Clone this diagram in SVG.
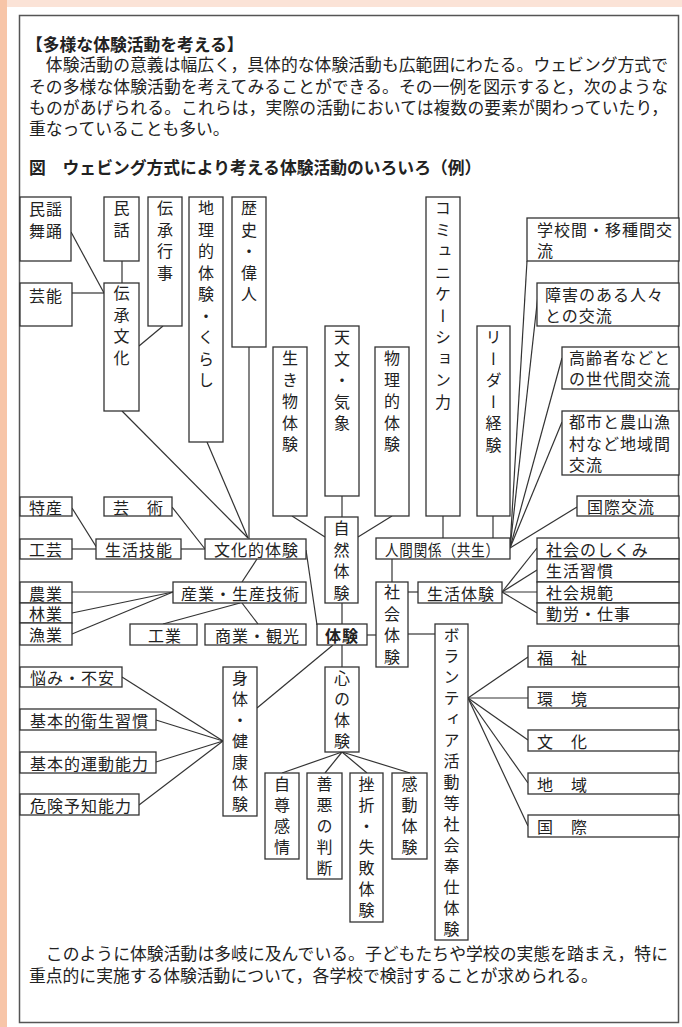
<svg xmlns="http://www.w3.org/2000/svg" width="682" height="1027" viewBox="0 0 682 1027">
<style>
.bg{fill:#fff}
.b{fill:#fff;stroke:#333;stroke-width:1.3}
.t{font-family:"Noto Sans CJK JP","Noto Sans CJK SC",sans-serif;font-size:16px;fill:#222;dominant-baseline:central;letter-spacing:1px}
.v{writing-mode:vertical-rl;letter-spacing:5.5px}
.p{font-family:"Noto Sans CJK JP","Noto Sans CJK SC",sans-serif;font-size:16.8px;fill:#222;dominant-baseline:central}
.bold{font-weight:bold}
#connectors line{stroke:#333;stroke-width:1.2}
</style>
<rect x="0" y="0" width="682" height="1027" fill="#fff"/>
<rect x="0" y="0" width="682" height="7" fill="#fbe3d7"/>
<rect x="0" y="0" width="7" height="1027" fill="#f7c5a8"/>
<rect x="19.5" y="15.5" width="659" height="1007" fill="none" stroke="#555" stroke-width="1.5"/>

<g id="intro">
<text class="p bold" x="26" y="44">【多様な体験活動を考える】</text>
<text class="p" x="29" y="64" textLength="639" lengthAdjust="spacing">　体験活動の意義は幅広く，具体的な体験活動も広範囲にわたる。ウェビング方式で</text>
<text class="p" x="29" y="86" textLength="639" lengthAdjust="spacing">その多様な体験活動を考えてみることができる。その一例を図示すると，次のような</text>
<text class="p" x="29" y="107" textLength="639" lengthAdjust="spacing">ものがあげられる。これらは，実際の活動においては複数の要素が関わっていたり，</text>
<text class="p" x="29" y="128">重なっていることも多い。</text>
<text class="p bold" x="29" y="167">図　ウェビング方式により考える体験活動のいろいろ（例）</text>
</g>

<g id="connectors">
<line x1="71" y1="232" x2="104" y2="293"/>
<line x1="72" y1="293" x2="104" y2="293"/>
<line x1="122" y1="261" x2="122" y2="283"/>
<line x1="163" y1="326" x2="139" y2="346"/>
<line x1="122" y1="411" x2="248" y2="538"/>
<line x1="207" y1="442" x2="248" y2="538"/>
<line x1="249" y1="347" x2="249" y2="539"/>
<line x1="72" y1="508" x2="97" y2="548"/>
<line x1="72" y1="549" x2="96" y2="549"/>
<line x1="181" y1="549" x2="205" y2="549"/>
<line x1="172" y1="507" x2="205" y2="549"/>
<line x1="257" y1="559" x2="242" y2="582"/>
<line x1="72" y1="592" x2="173" y2="592"/>
<line x1="72" y1="613" x2="173" y2="592"/>
<line x1="72" y1="634" x2="173" y2="592"/>
<line x1="240" y1="603" x2="163" y2="624"/>
<line x1="242" y1="603" x2="258" y2="624"/>
<line x1="306" y1="550" x2="317" y2="625"/>
<line x1="292" y1="516" x2="325" y2="537"/>
<line x1="342" y1="496" x2="342" y2="517"/>
<line x1="392" y1="516" x2="358" y2="537"/>
<line x1="443" y1="516" x2="443" y2="538"/>
<line x1="493" y1="516" x2="493" y2="538"/>
<line x1="510" y1="548" x2="577" y2="507"/>
<line x1="510" y1="548" x2="527" y2="261"/>
<line x1="510" y1="548" x2="538" y2="295"/>
<line x1="510" y1="548" x2="562" y2="358"/>
<line x1="510" y1="548" x2="562" y2="422"/>
<line x1="392" y1="559" x2="392" y2="582"/>
<line x1="408" y1="592" x2="418" y2="592"/>
<line x1="502" y1="592" x2="537" y2="548"/>
<line x1="502" y1="592" x2="537" y2="570"/>
<line x1="502" y1="592" x2="537" y2="592"/>
<line x1="502" y1="592" x2="537" y2="613"/>
<line x1="342" y1="603" x2="342" y2="624"/>
<line x1="367" y1="635" x2="376" y2="635"/>
<line x1="408" y1="634" x2="435" y2="634"/>
<line x1="342" y1="645" x2="342" y2="667"/>
<line x1="257" y1="708" x2="333" y2="645"/>
<line x1="122" y1="677" x2="223" y2="741"/>
<line x1="156" y1="720" x2="223" y2="741"/>
<line x1="156" y1="762" x2="223" y2="741"/>
<line x1="139" y1="805" x2="223" y2="741"/>
<line x1="342" y1="752" x2="282" y2="773"/>
<line x1="342" y1="752" x2="325" y2="773"/>
<line x1="342" y1="752" x2="367" y2="773"/>
<line x1="342" y1="752" x2="410" y2="773"/>
<line x1="468" y1="698" x2="528" y2="657"/>
<line x1="468" y1="698" x2="528" y2="698"/>
<line x1="468" y1="698" x2="528" y2="740"/>
<line x1="468" y1="698" x2="528" y2="783"/>
<line x1="468" y1="698" x2="528" y2="826"/>
</g>

<g id="n-minyo"><rect class="b" x="20" y="197" width="51" height="64"/><text class="t" x="29" y="208">民謡</text><text class="t" x="29" y="230">舞踊</text></g>
<g id="n-minwa"><rect class="b" x="104" y="197" width="35" height="64"/><text class="t v" x="121.5" y="200">民話</text></g>
<g id="n-densho-gyoji"><rect class="b" x="148" y="197" width="34" height="129"/><text class="t v" x="165" y="200">伝承行事</text></g>
<g id="n-chiri"><rect class="b" x="189" y="197" width="34" height="245"/><text class="t v" x="206" y="200">地理的体験・くらし</text></g>
<g id="n-rekishi"><rect class="b" x="232" y="197" width="34" height="150"/><text class="t v" x="249" y="200">歴史・偉人</text></g>
<g id="n-geino"><rect class="b" x="20" y="283" width="52" height="43"/><text class="t" x="29" y="295">芸能</text></g>
<g id="n-densho-bunka"><rect class="b" x="104" y="283" width="35" height="128"/><text class="t v" x="121.5" y="285">伝承文化</text></g>
<g id="n-ikimono"><rect class="b" x="273" y="347" width="34" height="169"/><text class="t v" x="290" y="350">生き物体験</text></g>
<g id="n-tenmon"><rect class="b" x="325" y="326" width="34" height="170"/><text class="t v" x="342" y="329">天文・気象</text></g>
<g id="n-butsuri"><rect class="b" x="375" y="347" width="34" height="169"/><text class="t v" x="392" y="350">物理的体験</text></g>
<g id="n-comm"><rect class="b" x="426" y="197" width="34" height="319"/><text class="t v" x="443" y="200">コミュニケーション力</text></g>
<g id="n-leader"><rect class="b" x="477" y="326" width="33" height="190"/><text class="t v" x="493.5" y="329">リーダー経験</text></g>
<g id="n-gakko"><rect class="b" x="527" y="218" width="152" height="43"/><text class="t" x="537" y="229">学校間・移種間交</text><text class="t" x="537" y="250">流</text></g>
<g id="n-shogai"><rect class="b" x="537" y="283" width="142" height="43"/><text class="t" x="545" y="294">障害のある人々</text><text class="t" x="545" y="315">との交流</text></g>
<g id="n-koreisha"><rect class="b" x="562" y="347" width="117" height="42"/><text class="t" x="569" y="357">高齢者などと</text><text class="t" x="569" y="378">の世代間交流</text></g>
<g id="n-toshi"><rect class="b" x="562" y="411" width="117" height="64"/><text class="t" x="569" y="421">都市と農山漁</text><text class="t" x="569" y="443">村など地域間</text><text class="t" x="569" y="464">交流</text></g>
<g id="n-kokusai-koryu"><rect class="b" x="577" y="496" width="102" height="20"/><text class="t" x="587" y="506">国際交流</text></g>
<g id="n-tokusan"><rect class="b" x="20" y="497" width="52" height="19"/><text class="t" x="29" y="507">特産</text></g>
<g id="n-geijutsu"><rect class="b" x="104" y="497" width="68" height="19"/><text class="t" x="113" y="507">芸　術</text></g>
<g id="n-shizen"><rect class="b" x="325" y="517" width="33" height="86"/><text class="t v" x="341.5" y="520">自然体験</text></g>
<g id="n-kogei"><rect class="b" x="20" y="539" width="52" height="20"/><text class="t" x="29" y="549">工芸</text></g>
<g id="n-seikatsu-gino"><rect class="b" x="96" y="539" width="85" height="20"/><text class="t" x="105" y="549">生活技能</text></g>
<g id="n-bunkateki"><rect class="b" x="205" y="539" width="101" height="20"/><text class="t" x="214" y="549">文化的体験</text></g>
<g id="n-ningen"><rect class="b" x="376" y="538" width="134" height="21"/><text class="t" x="385" y="548.5" textLength="115" lengthAdjust="spacingAndGlyphs">人間関係（共生）</text></g>
<g id="n-shakai-shikumi"><rect class="b" x="537" y="538" width="142" height="21"/><text class="t" x="546" y="548.5">社会のしくみ</text></g>
<g id="n-seikatsu-shukan"><rect class="b" x="537" y="559" width="142" height="23"/><text class="t" x="546" y="570">生活習慣</text></g>
<g id="n-shakai-kihan"><rect class="b" x="537" y="582" width="142" height="21"/><text class="t" x="546" y="592">社会規範</text></g>
<g id="n-kinro"><rect class="b" x="537" y="603" width="142" height="21"/><text class="t" x="546" y="613">勤労・仕事</text></g>
<g id="n-nogyo"><rect class="b" x="20" y="582" width="52" height="21"/><text class="t" x="29" y="592.5">農業</text></g>
<g id="n-ringyo"><rect class="b" x="20" y="603" width="52" height="20"/><text class="t" x="29" y="613">林業</text></g>
<g id="n-gyogyo"><rect class="b" x="20" y="623" width="52" height="22"/><text class="t" x="29" y="634">漁業</text></g>
<g id="n-sangyo"><rect class="b" x="173" y="582" width="133" height="21"/><text class="t" x="181" y="592.5">産業・生産技術</text></g>
<g id="n-shakai-taiken"><rect class="b" x="376" y="582" width="32" height="85"/><text class="t v" x="392" y="584">社会体験</text></g>
<g id="n-seikatsu-taiken"><rect class="b" x="418" y="582" width="84" height="21"/><text class="t" x="427" y="592.5">生活体験</text></g>
<g id="n-kogyo"><rect class="b" x="130" y="624" width="67" height="21"/><text class="t" x="148" y="634.5">工業</text></g>
<g id="n-shogyo"><rect class="b" x="205" y="624" width="101" height="21"/><text class="t" x="215" y="634.5">商業・観光</text></g>
<g id="n-taiken"><rect class="b" x="317" y="624" width="50" height="21"/><text class="t bold" x="325" y="634.5">体験</text></g>
<g id="n-volunteer"><rect class="b" x="435" y="624" width="33" height="316"/><text class="t v" x="451.5" y="627" style="letter-spacing:5px">ボランティア活動等社会奉仕体験</text></g>
<g id="n-fukushi"><rect class="b" x="528" y="646" width="151" height="21"/><text class="t" x="537" y="656.5">福　祉</text></g>
<g id="n-kankyo"><rect class="b" x="528" y="687" width="151" height="21"/><text class="t" x="537" y="697.5">環　境</text></g>
<g id="n-bunka"><rect class="b" x="528" y="730" width="151" height="21"/><text class="t" x="537" y="740.5">文　化</text></g>
<g id="n-chiiki"><rect class="b" x="528" y="773" width="151" height="21"/><text class="t" x="537" y="783.5">地　域</text></g>
<g id="n-kokusai"><rect class="b" x="528" y="815" width="151" height="22"/><text class="t" x="537" y="826">国　際</text></g>
<g id="n-nayami"><rect class="b" x="20" y="667" width="102" height="20"/><text class="t" x="30" y="677">悩み・不安</text></g>
<g id="n-eisei"><rect class="b" x="20" y="709" width="136" height="21"/><text class="t" x="30" y="719.5">基本的衛生習慣</text></g>
<g id="n-undo"><rect class="b" x="20" y="752" width="136" height="21"/><text class="t" x="30" y="762.5">基本的運動能力</text></g>
<g id="n-kiken"><rect class="b" x="20" y="794" width="119" height="21"/><text class="t" x="30" y="804.5">危険予知能力</text></g>
<g id="n-shintai"><rect class="b" x="223" y="667" width="34" height="149"/><text class="t v" x="240" y="670" style="letter-spacing:5px">身体・健康体験</text></g>
<g id="n-kokoro"><rect class="b" x="325" y="667" width="34" height="85"/><text class="t v" x="342" y="670" style="letter-spacing:5px">心の体験</text></g>
<g id="n-jison"><rect class="b" x="265" y="773" width="34" height="86"/><text class="t v" x="282" y="776" style="letter-spacing:5px">自尊感情</text></g>
<g id="n-zenaku"><rect class="b" x="307" y="773" width="35" height="106"/><text class="t v" x="324.5" y="776" style="letter-spacing:5px">善悪の判断</text></g>
<g id="n-zasetsu"><rect class="b" x="350" y="773" width="33" height="149"/><text class="t v" x="366.5" y="776" style="letter-spacing:5px">挫折・失敗体験</text></g>
<g id="n-kando"><rect class="b" x="392" y="773" width="35" height="86"/><text class="t v" x="409.5" y="776" style="letter-spacing:5px">感動体験</text></g>

<g id="outro">
<text class="p" x="29" y="953" textLength="639" lengthAdjust="spacing">　このように体験活動は多岐に及んでいる。子どもたちや学校の実態を踏まえ，特に</text>
<text class="p" x="29" y="975">重点的に実施する体験活動について，各学校で検討することが求められる。</text>
</g>
</svg>
